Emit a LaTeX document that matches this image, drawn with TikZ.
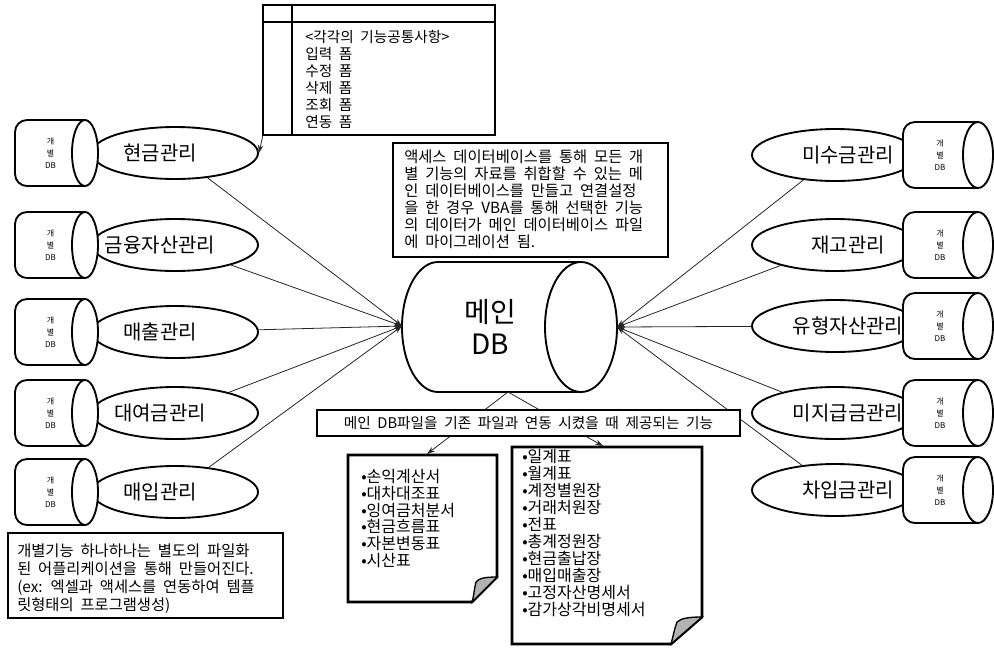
\documentclass[tikz,border=0pt]{standalone}
\usepackage{fontspec}
\setmainfont{Noto Sans CJK KR}[WordSpace=2]
\usetikzlibrary{arrows.meta,shapes.geometric}
\newcommand\smallcyl[5]{%
  \draw[cylline, rounded corners=9pt] (#3,#5-33) -- (#2,#5-33) -- (#2,#5+33) -- (#3,#5+33);
  \draw[cylline] (#3,#5) ellipse [x radius=#4, y radius=33];
  \node[cyltxt] (#1) at ({(#2+#3-#4)/2+7},#5) {개\\별\\DB};
}
\begin{document}
\begin{tikzpicture}[x=0.75pt,y=-0.75pt,
  fnell/.style={ellipse, draw, line width=1.4pt, fill=white, minimum width=124.5pt, minimum height=39pt, inner sep=0pt},
  ftxt/.style={font=\fontsize{15pt}{17pt}\selectfont, inner sep=0pt},
  cylline/.style={line width=1.4pt, fill=white},
  cyltxt/.style={font=\fontsize{6pt}{8.8pt}\selectfont, align=center, inner sep=0pt},
  conn/.style={line width=0.6pt, draw=black!85, -{Stealth[length=6pt,width=4pt]}},
  box/.style={draw, line width=1.1pt, fill=white, inner sep=0pt},
  note/.style={line width=2pt, fill=white, line join=miter},
  fold/.style={line width=1pt, fill=black!30},
  para/.style={anchor=north west, align=left, inner sep=0pt}
]
\useasboundingbox (0,0) rectangle (994,647);

% left functions
\foreach \i/\y/\t in {1/153/현금관리, 2/245/금융자산관리, 3/332/매출관리, 4/413/대여금관리, 5/492/매입관리} {
  \node[fnell] (L\i) at (175,\y) {};
  \smallcyl{Lc\i}{15}{85}{13}{\y}
  \node[ftxt] (Lt\i) at (160,\y) {\t};
}
% right functions
\foreach \i/\y/\t in {1/155/미수금관리, 2/245/재고관리, 3/326/유형자산관리, 4/413/미지급금관리, 5/490/차입금관리} {
  \node[fnell] (R\i) at (835,\y) {};
  \smallcyl{Rc\i}{903}{978}{15}{\y}
  \node[ftxt] (Rt\i) at (848,\y) {\t};
}

% main DB
\draw[cylline] (581,262) -- (438,262) arc[start angle=270, end angle=90, x radius=36, y radius=65] -- (581,392);
\draw[cylline] (581,327) ellipse [x radius=36, y radius=65];
\node[font=\fontsize{21pt}{23.5pt}\selectfont, align=center, inner sep=0pt] (db) at (490,327) {메인\\DB};
\coordinate (dbL) at (402,326);
\coordinate (dbR) at (617,327);
\coordinate (dbB) at (508,392);

\foreach \i in {1,...,5} {
  \draw[conn] (L\i) -- (dbL);
  \draw[conn] (R\i) -- (dbR);
}

% table
\draw[line width=1.6pt] (263,5) rectangle (495,135);
\draw[line width=1.6pt] (263,22) -- (495,22);
\draw[line width=1.6pt] (292,5) -- (292,135);
\coordinate (tblSW) at (263,135);
\node[para, font=\fontsize{11pt}{12.75pt}\selectfont] (tbl) at (305,30) {<각각의 기능공통사항>\\입력 폼\\수정 폼\\삭제 폼\\조회 폼\\연동 폼};
\draw[conn] (tblSW) -- (L1.east);

% description
\node[box, minimum width=206.25pt, minimum height=85.5pt] (descbox) at (530.5,200) {};
\node[para, font=\fontsize{11.5pt}{12.75pt}\selectfont] (desc) at (404,150) {액세스 데이터베이스를 통해 모든 개\\별 기능의 자료를 취합할 수 있는 메\\인 데이터베이스를 만들고 연결설정\\을 한 경우 VBA를 통해 선택한 기능\\의 데이터가 메인 데이터베이스 파일\\에 마이그레이션 됨.};

% notes
\coordinate (nL) at (427,454);
\coordinate (nR) at (603,446);
\draw[conn] (dbB) -- (nL);
\draw[conn] (dbB) -- (nR);
\node[box, minimum width=317.25pt, minimum height=19.5pt, font=\fontsize{11pt}{12pt}\selectfont] (cap) at (528.5,423) {메인 DB파일을 기존 파일과 연동 시켰을 때 제공되는 기능};

\draw[note] (348,455) -- (497,455) -- (497,577) -- (472,602) -- (348,602) -- cycle;
\draw[fold] (497,577) .. controls (486,577) and (479,578) .. (476,582) .. controls (474,589) and (474,596) .. (472,602) -- cycle;
\node[para, font=\fontsize{12pt}{12.6pt}\selectfont] (noteL) at (361,469) {•손익계산서\\•대차대조표\\•잉여금처분서\\•현금흐름표\\•자본변동표\\•시산표};

\draw[note] (512,447) -- (702,447) -- (702,617) -- (671,644) -- (512,644) -- cycle;
\draw[fold] (702,617) .. controls (690,617) and (681,618) .. (677,622) .. controls (674,630) and (673,637) .. (671,644) -- cycle;
\node[para, font=\fontsize{12pt}{12.75pt}\selectfont] (noteR) at (522,449) {•일계표\\•월계표\\•계정별원장\\•거래처원장\\•전표\\•총계정원장\\•현금출납장\\•매입매출장\\•고정자산명세서\\•감가상각비명세서};

% bottom-left remark
\node[box, line width=1.4pt, minimum width=206.25pt, minimum height=63.75pt] (blbox) at (145.5,575.5) {};
\node[para, font=\fontsize{11.5pt}{13.5pt}\selectfont] (bl) at (17,544) {개별기능 하나하나는 별도의 파일화\\된 어플리케이션을 통해 만들어진다.\\(ex: 엑셀과 액세스를 연동하여 템플\\릿형태의 프로그램생성)};
\end{tikzpicture}
\end{document}
